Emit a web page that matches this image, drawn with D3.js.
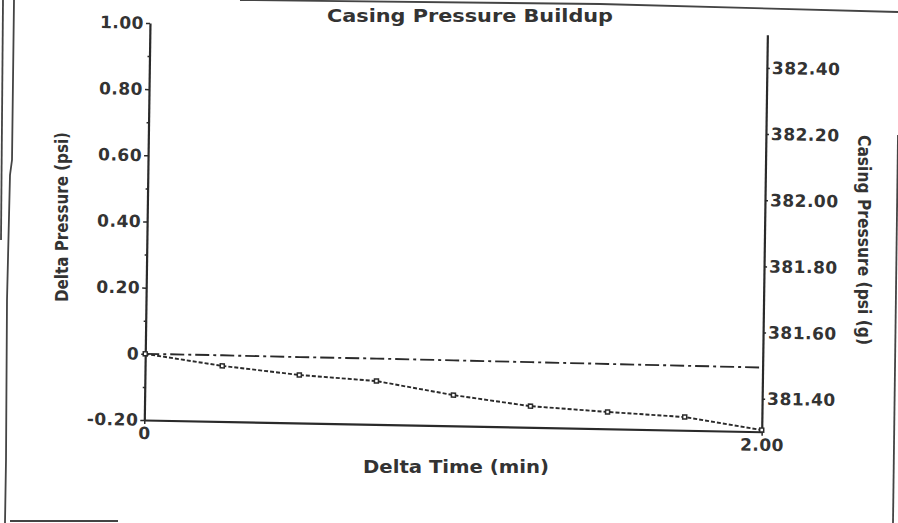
<!DOCTYPE html>
<html>
<head>
<meta charset="utf-8">
<script src="https://cdn.jsdelivr.net/npm/d3@7"></script>
<style>
body { margin: 0; background: #fff; }
text { font-family: "DejaVu Sans", sans-serif; font-weight: bold; fill: #333; }
</style>
</head>
<body>
<div id="chart-area"></div>
<script>
// values
var timeMin = [0, 0.25, 0.5, 0.75, 1.0, 1.25, 1.5, 1.75, 2.0];
var deltaPressure = [0, -0.032, -0.055, -0.069, -0.107, -0.136, -0.149, -0.160, -0.195];
var casingPressure = [381.500, 381.500, 381.499, 381.499, 381.498, 381.497, 381.496, 381.495, 381.494];

var xTicks = [0, 2];
var leftTicks = [-0.2, 0, 0.2, 0.4, 0.6, 0.8, 1.0];
var leftMinorTicks = [-0.1, 0.1, 0.3, 0.5, 0.7, 0.9];
var rightTicks = [381.4, 381.6, 381.8, 382.0, 382.2, 382.4];

var completeWidth = 898,
	completeHeight = 523;

//= plot size and its bottom-left corner on the page
var width = 617.5,
	height = 397;
var origin = { x: 144.3, y: 420 };
//= the scan is tilted about a degree (a bit more along x than along y)
var tiltX = 1.09 * Math.PI / 180,
	tiltY = 0.82 * Math.PI / 180;

var ink = "#2a2a2a";

var svg = d3.select("#chart-area")
	.append("svg")
		.attr("width", completeWidth)
		.attr("height", completeHeight);

//= edges of the scanned page
var scanEdges = [
	[[3, 0], [1, 240]],
	[[14, 0], [12, 160], [10, 175], [7, 300], [6, 460], [5, 523]],
	[[240, 0], [600, 4], [898, 12]],
	[[898, 135], [893, 523]],
	[[10, 521], [118, 521]]
];
svg.selectAll("path.edge")
	.data(scanEdges)
	.enter().append("path")
		.attr("class", "edge")
		.attr("d", d3.line())
		.attr("fill", "none")
		.attr("stroke", "#444")
		.attr("stroke-width", 1.8);

//= tilted frame, then shift so (0,0) is the plot's top-left
var g = svg.append("g")
	.attr("transform", "matrix(" + Math.cos(tiltX) + "," + Math.sin(tiltX) + "," +
		(-Math.sin(tiltY)) + "," + Math.cos(tiltY) + "," + origin.x + "," + origin.y + ")")
	.append("g")
	.attr("transform", "translate(0," + (-height) + ")");

// Scales
var x = d3.scaleLinear()
	.domain([0, 2])
	.range([0, width]);
var y = d3.scaleLinear()
	.domain([-0.2, 1.0])
	.range([height, 0]);
var yRight = d3.scaleLinear()
	.domain([381.3, 382.5])
	.range([height, 0]);

// Axes
function fmt(d) {
	if (d === 0) return "0";
	return (d < 0 ? "-" : "") + Math.abs(d).toFixed(2);
}

var xAxis = g.append("g")
	.attr("class", "x axis")
	.attr("transform", "translate(0," + height + ")")
	.call(d3.axisBottom(x).tickValues(xTicks).tickSize(4).tickSizeOuter(0).tickPadding(3).tickFormat(fmt));

var yAxis = g.append("g")
	.attr("class", "y axis")
	.call(d3.axisLeft(y).tickValues(leftTicks).tickSize(4).tickSizeOuter(0).tickPadding(2).tickFormat(fmt));

var yMinor = g.append("g")
	.attr("class", "y minor")
	.call(d3.axisLeft(y).tickValues(leftMinorTicks).tickSize(2).tickFormat(""));
yMinor.select(".domain").remove();

var yAxisRight = g.append("g")
	.attr("class", "y2 axis")
	.attr("transform", "translate(" + width + ",0)")
	.call(d3.axisRight(yRight).tickValues(rightTicks).tickSize(3).tickSizeOuter(0).tickPadding(2).tickFormat(function(d){ return d.toFixed(2); }));

g.selectAll(".domain").attr("stroke", ink).attr("stroke-width", 2.2);
g.selectAll(".tick line").attr("stroke", ink).attr("stroke-width", 1.5);
g.selectAll(".tick text")
	.attr("font-size", "17px")
	.style("letter-spacing", "0.5px");

// Casing pressure (right axis), dash-dot
var pressureLine = d3.line()
	.x(function(d, i){ return x(timeMin[i]); })
	.y(function(d){ return yRight(d); });
g.append("path")
	.datum(casingPressure)
	.attr("d", pressureLine)
	.attr("fill", "none")
	.attr("stroke", ink)
	.attr("stroke-width", 1.9)
	.attr("stroke-dasharray", "14,4,3,4");

// Delta pressure (left axis), dashed with square markers
var deltaLine = d3.line()
	.x(function(d, i){ return x(timeMin[i]); })
	.y(function(d){ return y(d); });
g.append("path")
	.datum(deltaPressure)
	.attr("d", deltaLine)
	.attr("fill", "none")
	.attr("stroke", ink)
	.attr("stroke-width", 1.9)
	.attr("stroke-dasharray", "4,2");

var markSize = 4;
g.selectAll("rect.mark")
	.data(deltaPressure)
	.enter().append("rect")
		.attr("class", "mark")
		.attr("x", function(d, i){ return x(timeMin[i]) - markSize / 2; })
		.attr("y", function(d){ return y(d) - markSize / 2; })
		.attr("width", markSize)
		.attr("height", markSize)
		.attr("fill", "#fff")
		.attr("stroke", ink)
		.attr("stroke-width", 1.5);

// Labels
svg.append("text")
	.attr("x", 470)
	.attr("y", 22)
	.attr("font-size", "18px")
	.attr("text-anchor", "middle")
	.attr("textLength", 286)
	.attr("lengthAdjust", "spacingAndGlyphs")
	.text("Casing Pressure Buildup");

svg.append("text")
	.attr("x", 456)
	.attr("y", 473)
	.attr("font-size", "18px")
	.attr("text-anchor", "middle")
	.attr("textLength", 186)
	.attr("lengthAdjust", "spacingAndGlyphs")
	.text("Delta Time (min)");

svg.append("text")
	.attr("transform", "translate(68,217) rotate(-90)")
	.attr("font-size", "17px")
	.attr("text-anchor", "middle")
	.attr("textLength", 170)
	.attr("lengthAdjust", "spacingAndGlyphs")
	.text("Delta Pressure (psi)");

svg.append("text")
	.attr("transform", "translate(858,240) rotate(90)")
	.attr("font-size", "18px")
	.attr("text-anchor", "middle")
	.attr("textLength", 210)
	.attr("lengthAdjust", "spacingAndGlyphs")
	.text("Casing Pressure (psi (g)");
</script>
</body>
</html>
